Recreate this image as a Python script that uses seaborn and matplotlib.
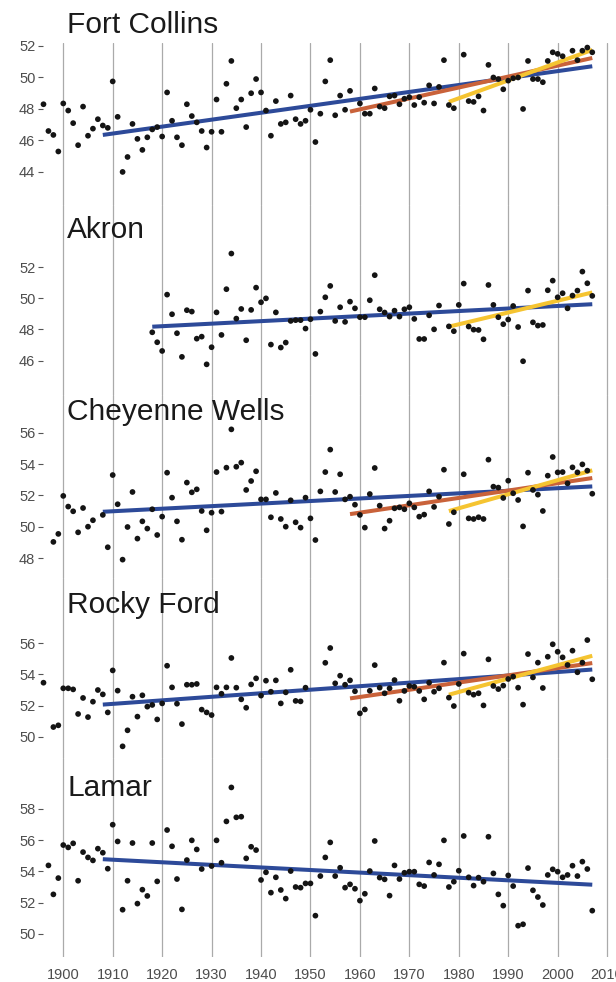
import numpy as np
import pandas as pd
import matplotlib
matplotlib.use("Agg")
import matplotlib.pyplot as plt
import seaborn as sns

nan = np.nan

# annual mean temperature (F); each list starts at its first year
stations = ["Fort Collins", "Akron", "Cheyenne Wells", "Rocky Ford", "Lamar"]
first_year = {"Fort Collins": 1896, "Akron": 1918, "Cheyenne Wells": 1898,
              "Rocky Ford": 1896, "Lamar": 1897}

fort_collins = [
    48.3, 46.6, 46.35, 45.3, 48.35, 47.9, 47.1, 45.7, 48.15, 46.3,        # 1896-1905
    46.75, 47.35, 46.95, 46.8, 49.75, 47.5, 44.0, 44.95, 47.05, 46.1,     # 1906-1915
    45.4, 46.2, 46.7, 46.85, 46.25, 49.05, 47.25, 46.2, 45.7, 48.3,       # 1916-1925
    47.55, 47.15, 46.6, 45.55, 46.55, 48.6, 46.55, 49.6, 51.05, 48.05,    # 1926-1935
    48.6, 46.85, 49.0, 49.9, 49.05, 47.9, 46.3, 48.5, 47.05, 47.15,       # 1936-1945
    48.85, 47.35, 47.05, 47.25, 47.95, 45.9, 47.7, 49.75, 51.1, 47.6,     # 1946-1955
    48.85, 47.95, 49.15, nan, 48.35, 47.7, 47.7, 49.3, 48.15, 48.05,      # 1956-1965
    48.8, 48.85, 48.3, 48.65, 48.75, 48.25, 48.75, 48.4, 49.5, 48.35,     # 1966-1975
    49.4, 51.1, 48.25, 48.05, nan, 51.45, 48.5, 48.45, 48.8, 47.9,        # 1976-1985
    50.8, 50.0, 49.9, 49.25, 49.8, 49.95, 50.0, 48.0, 51.05, 49.9,        # 1986-1995
    49.9, 49.7, 51.05, 51.6, 51.5, 51.35, nan, 51.7, 51.1, 51.7,          # 1996-2005
    51.9, 51.6,                                                           # 2006-2007
]

akron = [
    47.82, 47.18, 46.62, 50.24, 48.98, 47.76, 46.24, 49.24,               # 1918-1925
    49.15, 47.41, 47.54, 45.76, 46.86, 49.1, 47.65, 50.59, 52.88, 48.7,   # 1926-1935
    49.32, 47.31, 49.26, 50.69, 49.75, 50.0, 47.03, 49.1, 46.84, 47.16,   # 1936-1945
    48.55, 48.6, 48.6, 48.06, 48.66, 46.43, 49.15, 50.07, 50.8, 48.55,    # 1946-1955
    49.43, 48.49, 49.79, 49.36, 48.79, 48.79, 49.88, 51.49, 49.3, 49.09,  # 1956-1965
    48.83, 49.21, 48.83, 49.3, 49.43, 48.68, 47.39, 47.39, 48.91, 48.01,  # 1966-1975
    49.54, nan, 48.2, 47.89, 49.58, 50.95, 48.19, 47.99, 47.97, 47.37,    # 1976-1985
    50.86, 49.58, 48.79, 48.34, 48.64, 49.51, 48.16, 45.96, 50.5, 48.46,  # 1986-1995
    48.25, 48.29, 50.52, 51.14, 50.07, 50.33, 49.36, 50.18, 50.5, 51.72,  # 1996-2005
    50.97, 50.16,                                                         # 2006-2007
]

cheyenne_wells = [
    49.04, 49.55, 51.97, 51.29, 50.99, 49.65, 51.2, 50.01,                # 1898-1905
    50.42, nan, 50.76, 48.7, 53.3, 51.44, 47.91, 49.99, 52.22, 49.25,     # 1906-1915
    50.35, 49.89, 51.12, 49.48, 50.65, 53.45, 51.86, 50.35, 49.18, 52.82, # 1916-1925
    52.2, 52.39, 51.01, 49.78, 50.9, 53.49, 50.97, 53.77, 56.21, 53.83,   # 1926-1935
    54.09, 52.35, 52.92, 53.54, 51.75, 51.75, 50.61, 52.16, 50.5, 50.01,  # 1936-1945
    51.69, 50.29, 49.95, 51.86, 50.54, 49.16, 52.26, 53.49, 54.92, 52.22, # 1946-1955
    53.35, 51.75, 51.92, 51.41, 50.76, 49.95, 52.09, 53.75, 51.35, 49.89, # 1956-1965
    50.39, 51.18, 51.24, 51.12, 51.5, 51.24, 50.65, 50.78, 52.26, 51.27,  # 1966-1975
    51.92, 53.64, 50.18, 50.93, nan, 53.35, 50.54, 50.5, 50.61, 50.5,     # 1976-1985
    54.28, 52.56, 52.5, 51.84, 52.94, 52.14, 51.71, 50.03, 53.45, 52.35,  # 1986-1995
    52.05, 51.01, 53.26, 54.45, 53.47, 53.49, 52.77, 53.79, 53.47, 53.98, # 1996-2005
    53.58, 52.11,                                                         # 2006-2007
]

rocky_ford = [
    53.47, nan, 50.62, 50.73, 53.11, 53.11, 53.04, 51.46, 52.49, 51.26,   # 1896-1905
    52.25, 53.0, 52.72, 51.56, 54.26, 52.96, 49.38, 50.41, 52.57, 51.29,  # 1906-1915
    52.66, 51.93, 52.04, 51.11, 52.14, 54.56, 53.17, 52.12, 50.81, 53.34, # 1916-1925
    53.34, 53.39, 51.74, 51.56, 51.39, 53.17, 52.76, 53.17, 55.06, 53.15, # 1926-1935
    52.4, 51.86, 53.36, 53.75, 52.64, 53.6, 52.89, 53.62, 52.14, 52.85,   # 1936-1945
    54.3, 52.3, 52.27, 53.15, nan, nan, nan, 54.75, 55.7, 53.43,          # 1946-1955
    53.92, 53.34, 53.62, 52.92, 51.5, 51.75, 52.95, 54.6, 53.15, 52.79,   # 1956-1965
    53.11, 53.64, 52.31, 52.94, 53.26, 53.21, 52.94, 52.4, 53.47, 52.89,  # 1966-1975
    53.11, 54.76, 52.51, 51.97, 53.39, 55.34, 52.83, 52.7, 52.79, 52.01,  # 1976-1985
    54.97, 53.26, 53.06, 53.28, 53.71, 53.86, 53.15, 52.06, 55.31, 53.81, # 1986-1995
    54.76, 53.13, 55.14, 55.94, 55.46, 55.1, 54.61, 55.53, 54.14, 54.76,  # 1996-2005
    56.21, 53.69,                                                         # 2006-2007
]

lamar = [
    54.38, 52.53, 53.57, 55.68, 55.53, 55.79, 53.4, 55.23, 54.89,         # 1897-1905
    54.7, 55.45, 55.19, 54.17, 56.98, 55.91, 51.55, 53.4, 55.81, 51.94,   # 1906-1915
    52.83, 52.43, 55.81, 53.36, nan, 56.64, 55.6, 53.51, 51.57, 54.72,    # 1916-1925
    55.98, 55.4, 54.15, nan, 54.34, 55.98, 54.55, 57.19, 59.36, 57.45,    # 1926-1935
    57.49, 54.83, 55.57, 55.36, 53.45, 53.94, 52.64, 53.62, 52.81, 52.26, # 1936-1945
    54.02, 53.0, 52.96, 53.23, 53.23, 51.17, 53.7, 54.89, 55.85, 53.7,    # 1946-1955
    54.23, 52.96, 53.17, 52.89, 52.13, 52.57, 54.02, 55.94, 53.6, 53.49,  # 1956-1965
    52.45, 54.38, 53.51, 53.91, 53.98, 53.98, 53.17, 53.06, 54.57, 53.77, # 1966-1975
    54.45, 55.98, 53.0, 53.34, 54.04, 56.26, 53.62, 53.09, 53.6, 53.34,   # 1976-1985
    56.21, 53.87, 52.53, 51.81, 53.74, 53.06, 50.53, 50.62, 54.21, 52.79, # 1986-1995
    52.36, 51.85, 53.77, 54.13, 53.98, 53.62, 53.77, 54.36, 53.7, 54.62,  # 1996-2005
    54.15, 51.49,                                                         # 2006-2007
]

temps = {"Fort Collins": fort_collins, "Akron": akron, "Cheyenne Wells": cheyenne_wells,
         "Rocky Ford": rocky_ford, "Lamar": lamar}

# linear trends fitted from these start years to 2007
trend_start = {"100 yr": 1908, "50 yr": 1958, "30 yr": 1978}
trend_color = {"100 yr": "#2d4a99", "50 yr": "#c9623a", "30 yr": "#f5c431"}
trends_shown = {"Fort Collins": ["100 yr", "50 yr", "30 yr"],
                "Akron": ["100 yr", "30 yr"],
                "Cheyenne Wells": ["100 yr", "50 yr", "30 yr"],
                "Rocky Ford": ["100 yr", "50 yr", "30 yr"],
                "Lamar": ["100 yr"]}

y_ticks = {"Fort Collins": [44, 46, 48, 50, 52], "Akron": [46, 48, 50, 52],
           "Cheyenne Wells": [48, 50, 52, 54, 56], "Rocky Ford": [50, 52, 54, 56],
           "Lamar": [50, 52, 54, 56, 58]}
x_ticks = list(range(1900, 2011, 10))

# layout (pixels) and y ranges for each panel
W, H = 616, 982
panel_px = {"Fort Collins": (43, 205), "Akron": (205, 395), "Cheyenne Wells": (395, 578),
            "Rocky Ford": (578, 758), "Lamar": (758, 957)}
y_lims = {"Fort Collins": (41.9, 52.19), "Akron": (43.79, 56.0),
          "Cheyenne Wells": (46.74, 58.4), "Rocky Ford": (48.63, 60.2),
          "Lamar": (48.53, 61.24)}
title_px = {"Fort Collins": 33, "Akron": 238, "Cheyenne Wells": 420,
            "Rocky Ford": 613, "Lamar": 796}

sns.set_style("white")
plt.rcParams["font.family"] = ["Liberation Sans", "DejaVu Sans"]

fig = plt.figure(figsize=(W / 100, H / 100), dpi=100)

for name in stations:
    vals = temps[name]
    df = pd.DataFrame({"year": np.arange(first_year[name], first_year[name] + len(vals)),
                       "temp": vals}).dropna()
    top, bot = panel_px[name]
    ax = fig.add_axes([43 / W, 1 - bot / H, (W - 43) / W, (bot - top) / H])
    ax.patch.set_alpha(0)

    for t in trends_shown[name]:
        sub = df[df["year"] >= trend_start[t]]
        sns.regplot(data=sub, x="year", y="temp", scatter=False, ci=None, truncate=True,
                    color=trend_color[t], line_kws={"lw": 2.9, "solid_capstyle": "butt"}, ax=ax)
    sns.scatterplot(data=df, x="year", y="temp", color="#141414", s=17,
                    edgecolor="none", ax=ax, zorder=5, clip_on=False)

    ax.set_xlim(1895.9, 2011.8)
    ax.set_ylim(*y_lims[name])
    ax.set_xticks(x_ticks)
    ax.set_yticks(y_ticks[name])
    ax.set_xlabel("")
    ax.set_ylabel("")
    for s in ax.spines.values():
        s.set_visible(False)
    ax.grid(axis="x", color="#aaaaaa", lw=0.9)
    ax.grid(axis="y", visible=False)
    ax.set_axisbelow(True)
    ax.tick_params(axis="y", left=True, length=3.5, width=0.8, color="#555555",
                   labelsize=10.5, labelcolor="#4d4d4d", pad=2)
    if name == "Lamar":
        ax.tick_params(axis="x", bottom=False, labelsize=10.5, labelcolor="#4d4d4d", pad=4.5)
    else:
        ax.tick_params(axis="x", bottom=False, labelbottom=False)

    fig.text(67 / W, 1 - title_px[name] / H, name, fontsize=21.5, color="#1a1a1a",
             ha="left", va="baseline")

fig.savefig("out.png", dpi=100)
